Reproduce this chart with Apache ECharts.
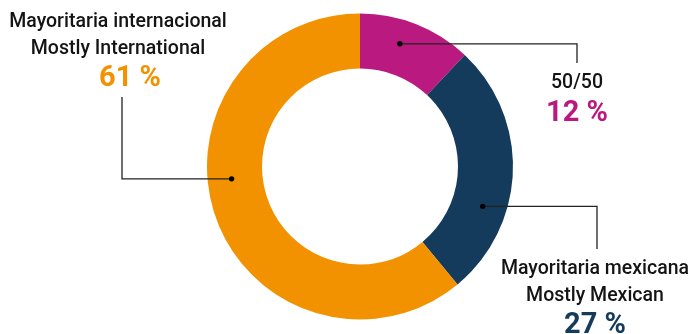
<!DOCTYPE html>
<html>
<head>
<meta charset="utf-8">
<script src="https://cdn.jsdelivr.net/npm/echarts@6/dist/echarts.min.js"></script>
<style>
html,body{margin:0;padding:0;background:#fff;}
#c{width:689px;height:334px;}
</style>
</head>
<body>
<div id="c"></div>
<script>
// Data
const categories = ['50/50', 'Mayoritaria mexicana\nMostly Mexican', 'Mayoritaria internacional\nMostly International'];
const values = [12, 27, 61];
const colors = ['#BA197F', '#143A5C', '#F39200'];

// Layout (annotation geometry)
const CX = 360, CY = 166.5, R0 = 98, R1 = 153;
const anchorAngles = [18, 108, 264.5];   // degrees clockwise from top, where connector starts
const anchorR = 129;
const elbow = [[577, 63], [597, 249], [122, 97]]; // end of connector (x of vertical, y end)
const labelPos = [[577, 70], [595, 256], [118, 9]];

function anchor(i) {
  const a = anchorAngles[i] * Math.PI / 180;
  return [CX + anchorR * Math.sin(a), CY - anchorR * Math.cos(a)];
}

const FONT = 'Roboto, "Noto Sans", sans-serif';

const guides = [];
anchorAngles.forEach((_, i) => {
  const a = anchor(i);
  guides.push({
    type: 'polyline', z: 100,
    shape: { points: [a, [elbow[i][0], a[1]], [elbow[i][0], elbow[i][1]]] },
    style: { stroke: '#222', lineWidth: 1.3, fill: null }
  });
  guides.push({ type: 'circle', z: 101, shape: { cx: a[0], cy: a[1], r: 2.7 }, style: { fill: '#000' } });
});

const chart = echarts.init(document.getElementById('c'));
chart.setOption({
  animation: false,
  color: colors,
  graphic: guides,
  series: [{
    type: 'pie',
    center: [CX, CY],
    radius: [R0, R1],
    startAngle: 90,
    clockwise: true,
    silent: true,
    data: categories.map((n, i) => ({ name: n, value: values[i] })),
    label: {
      show: true,
      fontFamily: FONT,
      overflow: 'none',
      formatter: p => '{n|' + p.name.split('\n').join('}\n{n|') + '}\n{p' + p.dataIndex + '|' + p.value + ' %}',
      rich: {
        n: { fontFamily: FONT, fontSize: 19.5, lineHeight: 27, color: '#141414', fontWeight: 500 },
        p0: { fontFamily: FONT, fontSize: 29, lineHeight: 34, color: colors[0], fontWeight: 'bold' },
        p1: { fontFamily: FONT, fontSize: 29, lineHeight: 32, color: colors[1], fontWeight: 'bold' },
        p2: { fontFamily: FONT, fontSize: 29, lineHeight: 32, color: colors[2], fontWeight: 'bold', padding: [0, 0, 0, 24] }
      },
      align: 'center'
    },
    labelLine: { show: false },
    labelLayout: function (params) {
      const i = params.dataIndex;
      return { x: labelPos[i][0], y: labelPos[i][1], align: 'center', verticalAlign: 'top' };
    }
  }]
});
</script>
</body>
</html>
